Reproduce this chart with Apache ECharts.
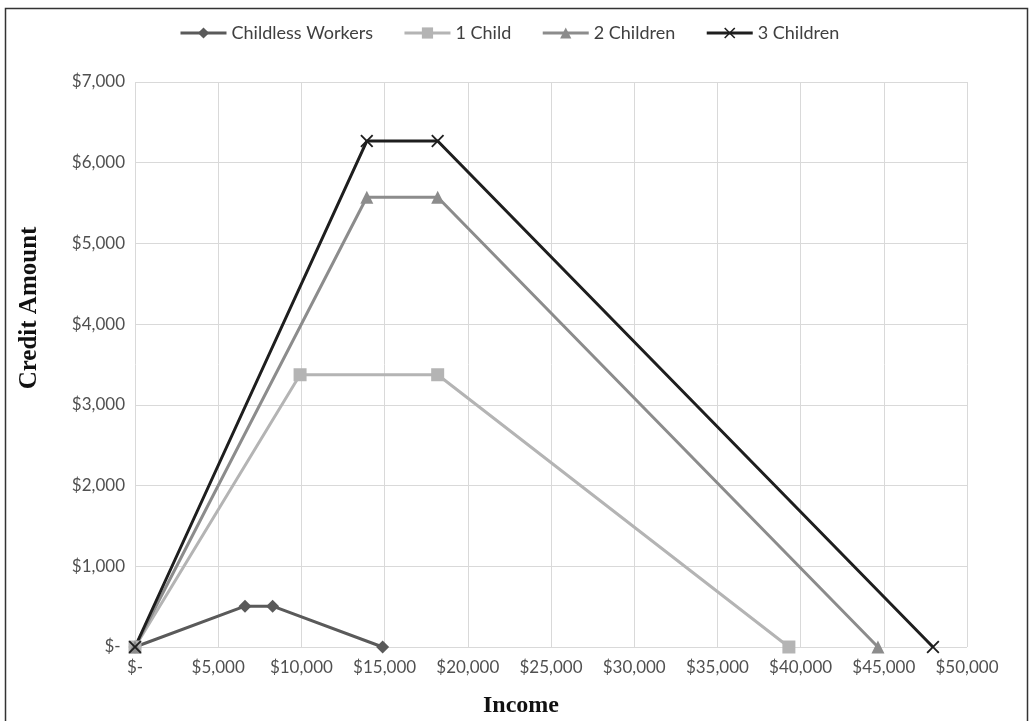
<!DOCTYPE html>
<html>
<head>
<meta charset="utf-8">
<style>
    html, body {margin:0;padding:0;background:#fff;}
    #chart {width:1033px;height:721px;}
</style>
<script src="https://cdn.jsdelivr.net/npm/echarts@6/dist/echarts.min.js"></script>
</head>
<body>
<div id="chart"></div>
<script>
    // EITC schedule, single filers
    var childlessX = [0, 6610, 8270, 14880];
    var childlessY = [0, 506, 506, 0];
    var oneChildX = [0, 9920, 18190, 39296];
    var oneChildY = [0, 3373, 3373, 0];
    var twoChildX = [0, 13930, 18190, 44648];
    var twoChildY = [0, 5572, 5572, 0];
    var threeChildX = [0, 13930, 18190, 47955];
    var threeChildY = [0, 6269, 6269, 0];
    var seriesNames = ['Childless Workers', '1 Child', '2 Children', '3 Children'];

    var crossPath = 'path://M0,1L1,0L5,4L9,0L10,1L6,5L10,9L9,10L5,6L1,10L0,9L4,5Z';

    function pairs(xs, ys) {
        return xs.map(function (x, i) { return [x, ys[i]]; });
    }
    function money(v) {
        return v === 0 ? '$-' : '$' + v.toLocaleString('en-US');
    }

    var chart = echarts.init(document.getElementById('chart'));
    var labelFont = {color: '#505050', fontSize: 17, fontFamily: 'Lato'};

    chart.setOption({
        animation: false,
        grid: {left: 135, right: 66, top: 82, bottom: 74},
        legend: {
            top: 19,
            left: 174,
            itemWidth: 46,
            itemHeight: 14,
            itemGap: 30,
            lineStyle: {width: 3},
            textStyle: {color: '#404040', fontSize: 18, fontFamily: 'Lato'},
            data: seriesNames
        },
        xAxis: {
            type: 'value', min: 0, max: 50000, interval: 5000,
            axisLine: {show: false},
            axisTick: {show: false},
            splitLine: {lineStyle: {color: '#d9d9d9', width: 1}},
            axisLabel: Object.assign({margin: 12, formatter: money}, labelFont)
        },
        yAxis: {
            type: 'value', min: 0, max: 7000, interval: 1000,
            axisLine: {show: false},
            axisTick: {show: false},
            splitLine: {lineStyle: {color: '#d9d9d9', width: 1}},
            axisLabel: Object.assign({margin: 10, formatter: function (v) { return v === 0 ? '$- ' : money(v); }}, labelFont)
        },
        series: [
            {
                name: seriesNames[0], type: 'line', data: pairs(childlessX, childlessY),
                symbol: 'diamond', symbolSize: 13,
                lineStyle: {color: '#5a5a5a', width: 3},
                itemStyle: {color: '#5a5a5a'}
            },
            {
                name: seriesNames[1], type: 'line', data: pairs(oneChildX, oneChildY),
                symbol: 'rect', symbolSize: 13,
                lineStyle: {color: '#b4b4b4', width: 3},
                itemStyle: {color: '#b4b4b4'}
            },
            {
                name: seriesNames[2], type: 'line', data: pairs(twoChildX, twoChildY),
                symbol: 'triangle', symbolSize: 13,
                lineStyle: {color: '#8c8c8c', width: 3},
                itemStyle: {color: '#8c8c8c'}
            },
            {
                name: seriesNames[3], type: 'line', data: pairs(threeChildX, threeChildY),
                symbol: crossPath, symbolSize: 13,
                lineStyle: {color: '#1e1e1e', width: 3},
                itemStyle: {color: '#1e1e1e'}
            }
        ],
        graphic: [
            {
                type: 'rect', silent: true,
                shape: {x: 5.5, y: 8.5, width: 1022, height: 730},
                style: {fill: 'none', stroke: '#333', lineWidth: 1.5}
            },
            {
                type: 'text', x: 30, y: 308, rotation: Math.PI / 2,
                style: {text: 'Credit Amount', fill: '#111', font: 'bold 25px "Liberation Serif"',
                    align: 'center', verticalAlign: 'middle'}
            },
            {
                type: 'text', x: 521, y: 706,
                style: {text: 'Income', fill: '#111', font: 'bold 24px "Liberation Serif"',
                    align: 'center', verticalAlign: 'middle'}
            }
        ]
    });
</script>
</body>
</html>
